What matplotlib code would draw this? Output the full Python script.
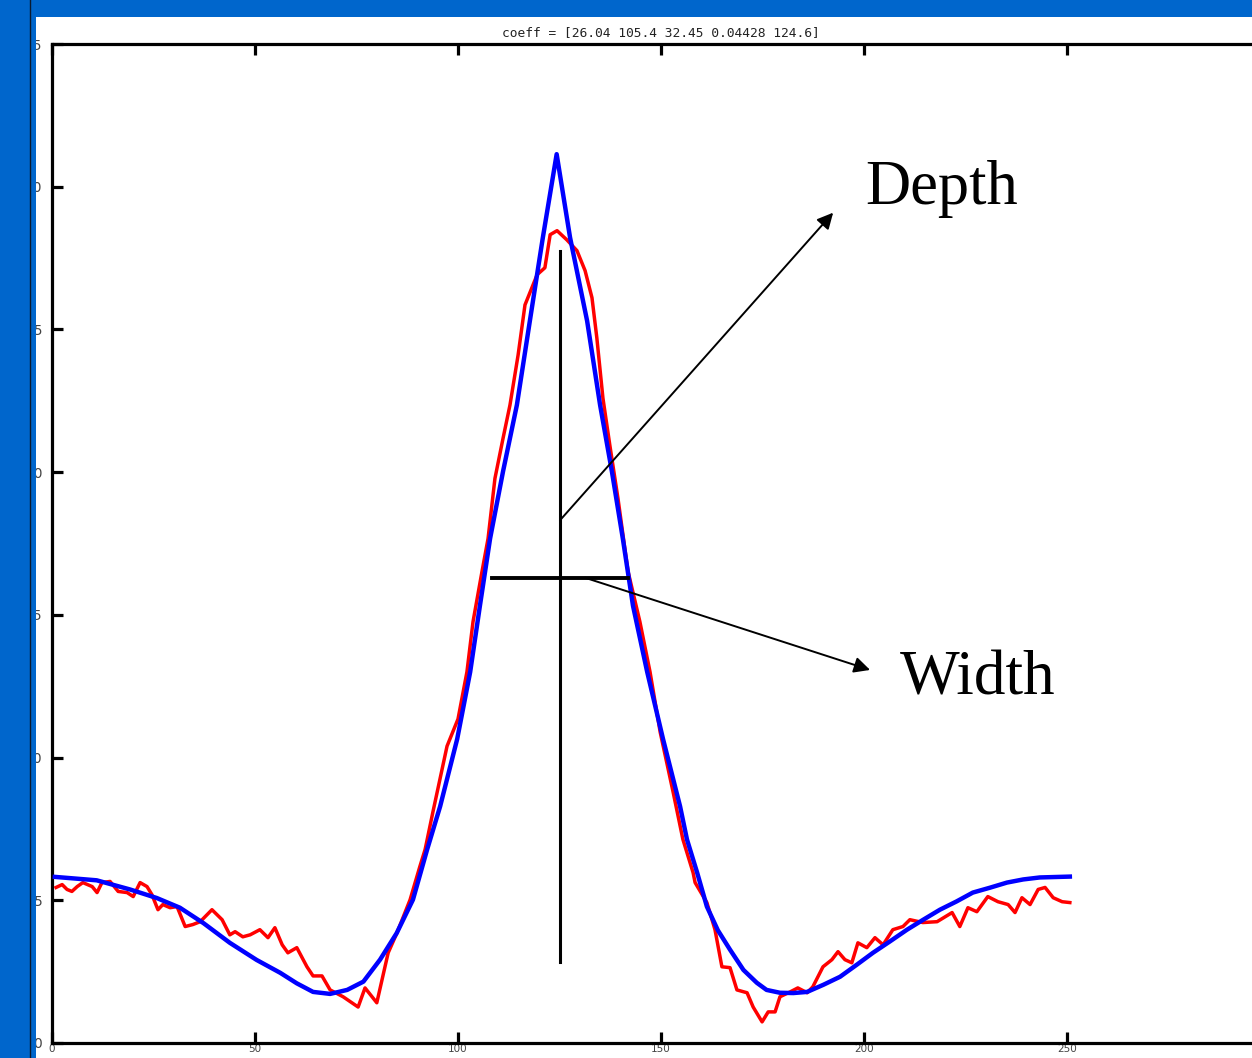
import matplotlib
matplotlib.use("Agg")
import matplotlib.pyplot as plt
from matplotlib.patches import Rectangle
from matplotlib.lines import Line2D

# ---- data ----
title_text = "coeff = [26.04 105.4 32.45 0.04428 124.6]"

x_ticks = [0, 50, 100, 150, 200, 250]
y_ticks = [0, 5, 10, 15, 20, 25, 30, 35]

# measured profile (red)
meas_x = [1.0, 2.5, 3.7, 4.9, 6.2, 7.6, 9.9, 11.1, 12.3, 14.3, 16.3, 18.5, 20.0, 21.7,
          23.4, 24.6, 26.1, 27.3, 29.1, 30.8, 32.8, 34.7, 36.5, 39.4, 41.9, 43.8, 45.1,
          47.0, 48.8, 51.2, 53.2, 54.9, 56.7, 58.1, 60.3, 62.8, 64.3, 66.5, 68.5, 71.7,
          75.4, 77.1, 80.0, 82.8, 85.0, 88.2, 90.6, 91.9, 93.8, 97.3, 100.0, 102.2,
          103.7, 105.9, 107.4, 109.1, 111.1, 112.8, 114.8, 116.5, 119.5, 121.4, 122.7,
          124.4, 126.8, 129.3, 131.3, 133.0, 134.2, 135.7, 137.4, 139.4, 141.1, 141.9,
          144.8, 147.3, 149.8, 153.0, 155.4, 157.9, 158.4, 161.3, 163.3, 165.0, 167.0,
          168.7, 171.2, 172.7, 174.9, 176.4, 178.1, 179.3, 181.8, 183.7, 186.0, 187.4,
          189.9, 192.1, 193.6, 195.3, 197.0, 198.5, 200.7, 202.7, 204.7, 207.1, 209.6,
          211.3, 214.5, 218.0, 221.7, 223.6, 225.6, 227.8, 230.5, 233.0, 235.5, 237.2,
          238.9, 240.9, 242.9, 244.6, 246.6, 248.8, 250.7]
meas_y = [5.45, 5.55, 5.38, 5.31, 5.48, 5.62, 5.48, 5.27, 5.62, 5.66, 5.31, 5.27, 5.13, 5.62,
          5.48, 5.20, 4.67, 4.85, 4.74, 4.78, 4.08, 4.15, 4.25, 4.67, 4.32, 3.79, 3.90,
          3.72, 3.79, 3.97, 3.69, 4.04, 3.44, 3.16, 3.34, 2.67, 2.35, 2.35, 1.86, 1.62,
          1.26, 1.93, 1.41, 3.16, 3.87, 5.02, 6.18, 6.78, 8.08, 10.40, 11.35, 13.00,
          14.76, 16.51, 17.67, 19.78, 21.19, 22.35, 24.10, 25.86, 26.92, 27.16, 28.32,
          28.46, 28.14, 27.76, 27.06, 26.11, 24.70, 22.59, 20.94, 19.08, 17.32, 16.51,
          14.76, 13.00, 10.89, 8.78, 7.13, 5.97, 5.62, 4.92, 3.97, 2.67, 2.64,
          1.86, 1.76, 1.26, 0.74, 1.09, 1.09, 1.62, 1.79, 1.93, 1.76, 1.97,
          2.67, 2.92, 3.20, 2.92, 2.81, 3.51, 3.34, 3.69, 3.44, 3.97, 4.08,
          4.32, 4.22, 4.25, 4.57, 4.08, 4.74, 4.60, 5.13, 4.95, 4.85, 4.57,
          5.09, 4.85, 5.38, 5.45, 5.09, 4.95, 4.92]

# fitted profile (blue)
fit_x = [0.7, 11.0, 19.2, 25.8, 31.5, 37.3, 43.8, 50.4, 56.2, 60.3, 64.3, 68.5, 72.7,
         76.7, 80.8, 84.9, 88.9, 92.4, 95.6, 99.8, 103.0, 105.4, 107.9, 111.1, 114.5,
         117.7, 120.9, 124.3, 127.6, 131.8, 135.0, 137.9, 140.6, 143.1, 146.6, 150.5,
         154.7, 156.4, 158.9, 161.3, 164.0, 167.0, 170.3, 173.6, 176.0, 179.3, 182.6,
         186.0, 190.0, 194.1, 198.2, 202.2, 206.4, 210.6, 214.6, 218.7, 222.8, 226.8,
         231.0, 235.2, 239.2, 243.3, 250.7]
fit_y = [5.82, 5.70, 5.38, 5.08, 4.74, 4.20, 3.51, 2.91, 2.46, 2.09, 1.79, 1.72, 1.86,
         2.15, 2.92, 3.85, 5.02, 6.78, 8.29, 10.65, 13.00, 15.32, 17.67, 20.03, 22.35,
         25.30, 28.22, 31.14, 28.22, 25.30, 22.35, 20.03, 17.67, 15.32, 13.00, 10.65,
         8.29, 7.13, 5.97, 4.78, 3.95, 3.27, 2.56, 2.11, 1.86, 1.76, 1.75,
         1.79, 2.04, 2.32, 2.74, 3.16, 3.56, 3.97, 4.32, 4.67, 4.96, 5.27,
         5.44, 5.62, 5.73, 5.80, 5.83]

# annotation guides
depth_line_x = [125.1, 125.1]
depth_line_y = [2.84, 27.75]
width_line_x = [108.4, 141.9]
width_line_y = [16.3, 16.3]
depth_arrow_from = (125.1, 18.31)
depth_arrow_to = (192.4, 29.09)
width_arrow_from = (131.3, 16.30)
width_arrow_to = (201.5, 13.07)
depth_label_pos = (200.2, 29.4)
width_label_pos = (208.9, 12.2)

# ---- figure ----
W, H = 1252, 1058
fig = plt.figure(figsize=(W / 100, H / 100), dpi=100)
fig.patch.set_facecolor("white")

ax = fig.add_axes([52 / W, 15 / H, 1218 / W, 999 / H])
ax.set_xlim(0, 300)
ax.set_ylim(0, 35)
ax.set_xticks(x_ticks)
ax.set_yticks(y_ticks)
ax.set_xticklabels([str(v) for v in x_ticks])
ax.set_yticklabels([str(v) for v in y_ticks])
for s in ax.spines.values():
    s.set_linewidth(2.3)
    s.set_color("black")
ax.tick_params(direction="in", length=8, width=2.3, top=True, right=True,
               color="black")
ax.tick_params(axis="y", labelsize=10, labelcolor="#444444", pad=7)
ax.tick_params(axis="x", labelsize=7.5, labelcolor="#444444", pad=0.5)

ax.plot(meas_x, meas_y, color="#ff0000", lw=2.5, zorder=3)
ax.plot(fit_x, fit_y, color="#0000ff", lw=3.2, zorder=4)

ax.plot(depth_line_x, depth_line_y, color="black", lw=2.2, zorder=5)
ax.plot(width_line_x, width_line_y, color="black", lw=2.8, zorder=5)

arrow_kw = dict(arrowstyle="-|>", color="black", lw=1.4, mutation_scale=24,
                shrinkA=0, shrinkB=0)
ax.annotate("", xy=depth_arrow_to, xytext=depth_arrow_from, arrowprops=arrow_kw, zorder=6)
ax.annotate("", xy=width_arrow_to, xytext=width_arrow_from, arrowprops=arrow_kw, zorder=6)

ax.text(*depth_label_pos, "Depth", family="Liberation Serif", fontsize=45,
        ha="left", va="baseline", color="black")
ax.text(*width_label_pos, "Width", family="Liberation Serif", fontsize=45.5,
        ha="left", va="baseline", color="black")

ax.set_title(title_text, family="DejaVu Sans Mono", fontsize=9.3, color="#222222", pad=6)

# slide frame: blue border strips and thin dark rule on the left
blue = "#0066cc"
fig.add_artist(Rectangle((0, 0), 36 / W, 1, transform=fig.transFigure,
                         facecolor=blue, edgecolor="none", zorder=20))
fig.add_artist(Rectangle((0, 1 - 17 / H), 1, 17 / H, transform=fig.transFigure,
                         facecolor=blue, edgecolor="none", zorder=20))
fig.add_artist(Line2D([29.5 / W, 29.5 / W], [0, 1], transform=fig.transFigure,
                      color="#0a1a30", lw=1.0, zorder=21))

fig.savefig("out.png", dpi=100, facecolor=fig.get_facecolor())
